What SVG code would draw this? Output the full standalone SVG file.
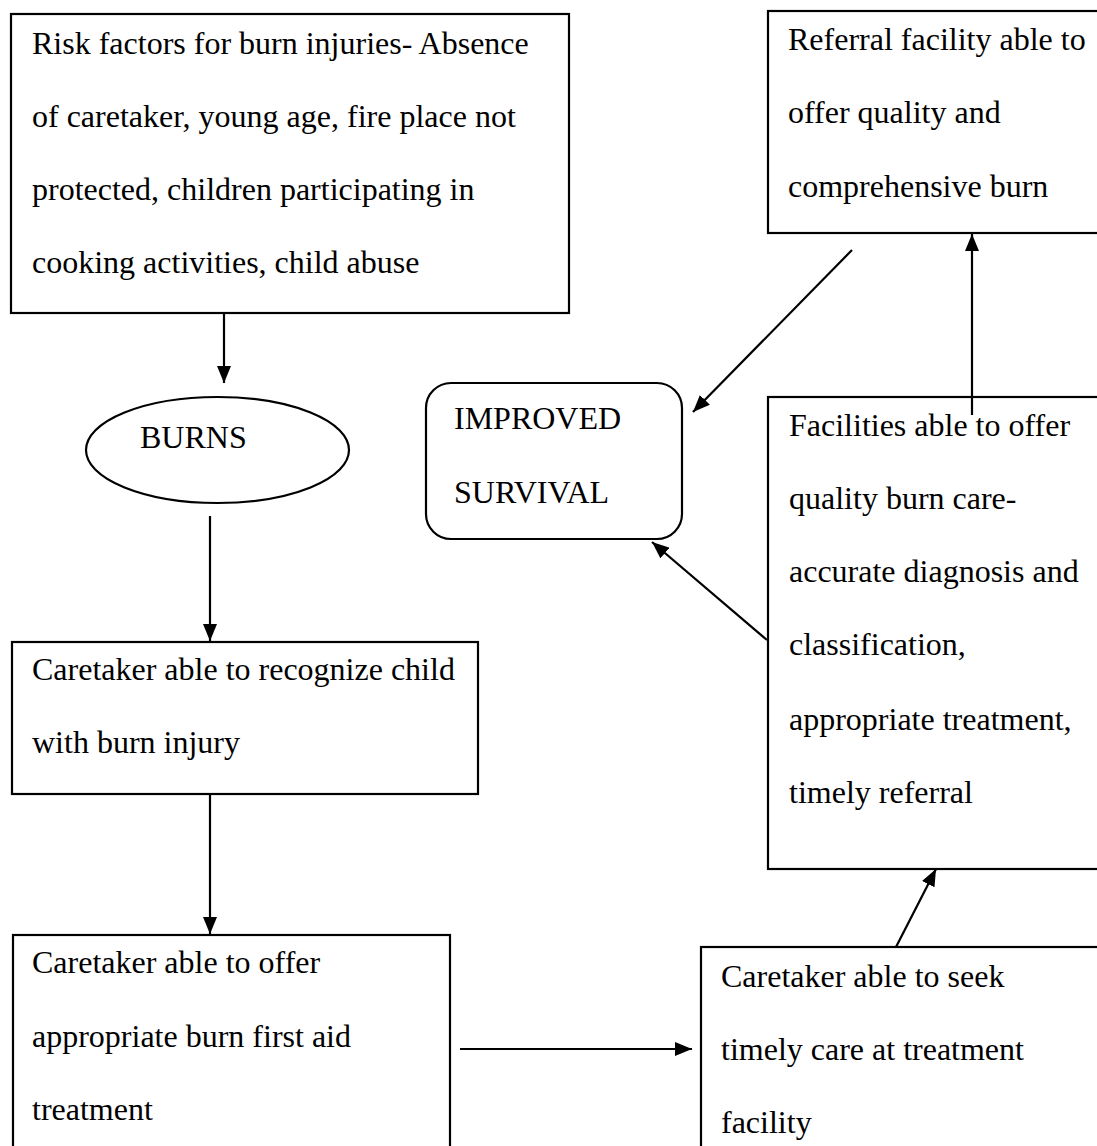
<svg xmlns="http://www.w3.org/2000/svg" width="1097" height="1146" viewBox="0 0 1097 1146">
<style>
.box{fill:#fff;stroke:#000;stroke-width:2.2}
.t{font-family:"Liberation Serif","Times New Roman",serif;font-size:32px;fill:#000}
.c{stroke:#000;stroke-width:2.2;fill:none;marker-end:url(#ah)}
</style>
<defs>
<marker id="ah" markerUnits="userSpaceOnUse" markerWidth="18" markerHeight="14" viewBox="0 0 18 14" refX="17" refY="7" orient="auto">
<path d="M0,0 L17,7 L0,14 Z" fill="#000"/>
</marker>
</defs>
<rect width="1097" height="1146" fill="#fff"/>
<g id="risk">
<rect class="box" x="11" y="14" width="558" height="299"/>
<text class="t" x="32" y="54">Risk factors for burn injuries- Absence</text>
<text class="t" x="32" y="127">of caretaker, young age, fire place not</text>
<text class="t" x="32" y="200">protected, children participating in</text>
<text class="t" x="32" y="273">cooking activities, child abuse</text>
</g>
<g id="referral">
<rect class="box" x="768" y="11" width="340" height="222"/>
<text class="t" x="788" y="50">Referral facility able to</text>
<text class="t" x="788" y="123">offer quality and</text>
<text class="t" x="788" y="197">comprehensive burn</text>
</g>
<g id="burns">
<ellipse class="box" cx="217.5" cy="450" rx="131.5" ry="53"/>
<text class="t" x="140" y="448">BURNS</text>
</g>
<g id="improved">
<rect class="box" x="426" y="383" width="256" height="156" rx="25" ry="25"/>
<text class="t" x="454" y="429">IMPROVED</text>
<text class="t" x="454" y="503">SURVIVAL</text>
</g>
<g id="facilities">
<rect class="box" x="768" y="397" width="340" height="472"/>
<text class="t" x="789" y="436">Facilities able to offer</text>
<text class="t" x="789" y="509">quality burn care-</text>
<text class="t" x="789" y="582">accurate diagnosis and</text>
<text class="t" x="789" y="655">classification,</text>
<text class="t" x="789" y="730">appropriate treatment,</text>
<text class="t" x="789" y="803">timely referral</text>
</g>
<g id="recognize">
<rect class="box" x="12" y="642" width="466" height="152"/>
<text class="t" x="32" y="680">Caretaker able to recognize child</text>
<text class="t" x="32" y="753">with burn injury</text>
</g>
<g id="firstaid">
<rect class="box" x="13" y="935" width="437" height="230"/>
<text class="t" x="32" y="973">Caretaker able to offer</text>
<text class="t" x="32" y="1047">appropriate burn first aid</text>
<text class="t" x="32" y="1120">treatment</text>
</g>
<g id="seek">
<rect class="box" x="701" y="947" width="407" height="220"/>
<text class="t" x="721" y="987">Caretaker able to seek</text>
<text class="t" x="721" y="1060">timely care at treatment</text>
<text class="t" x="721" y="1133">facility</text>
</g>
<g id="connectors">
<line class="c" x1="224" y1="313" x2="224" y2="383"/>
<line class="c" x1="210" y1="516" x2="210" y2="641"/>
<line class="c" x1="210" y1="794" x2="210" y2="934"/>
<line class="c" x1="460" y1="1049" x2="692" y2="1049"/>
<line class="c" x1="896" y1="947" x2="936" y2="869"/>
<line class="c" x1="972" y1="415" x2="972" y2="234"/>
<line class="c" x1="852" y1="250" x2="693" y2="412"/>
<line class="c" x1="767" y1="640" x2="652" y2="542"/>
</g>
</svg>
